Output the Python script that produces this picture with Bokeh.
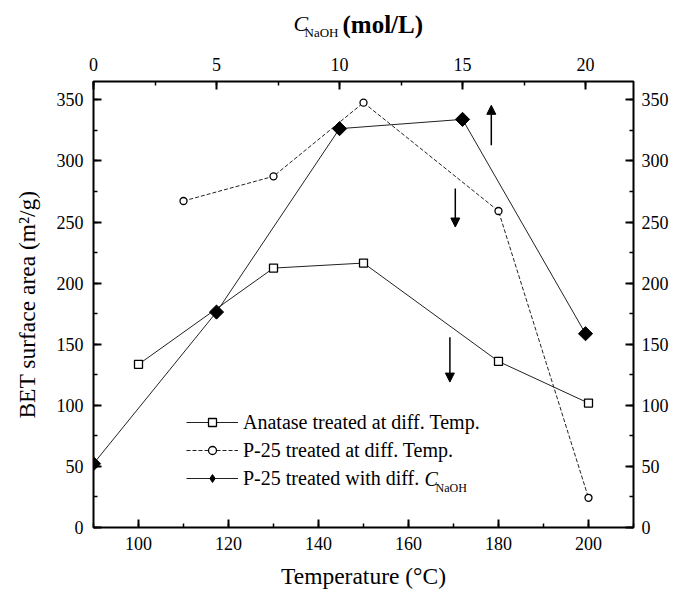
import numpy as np
from bokeh.plotting import figure
from bokeh.layouts import column
from bokeh.models import (Range1d, LinearAxis, SingleIntervalTicker, Label,
                          Legend, LegendItem, Arrow, NormalHead)
from bokeh.core.properties import value
from bokeh.embed import file_html
from bokeh.resources import INLINE

# Anatase treated at different temperatures
anatase_temp = [100, 130, 150, 180, 200]
anatase_bet = [133.5, 212.3, 216.4, 135.9, 101.8]

# P-25 treated at different temperatures
p25_temp = [110, 130, 150, 180, 200]
p25_bet = [267.2, 287.4, 347.7, 259.0, 24.3]

# P-25 treated with different NaOH concentrations (top axis)
naoh_conc = [0, 5, 10, 15, 20]
naoh_bet = [52.2, 176.3, 326.4, 334.0, 158.6]

FONT = "Liberation Serif"
INK = "black"
W, H_TOP, H = 677, 44, 593
LEFT, RIGHT = 93, 44          # side borders shared by both rows

# ---- strip above the plot holding the top axis title (pixel coordinates) ----
hdr = figure(width=W, height=H_TOP, output_backend="svg", toolbar_location=None,
             x_range=Range1d(LEFT, W - RIGHT), y_range=Range1d(H_TOP, 0),
             x_axis_location=None, y_axis_location=None,
             min_border_left=LEFT, min_border_right=RIGHT,
             min_border_top=0, min_border_bottom=0,
             background_fill_color="white", border_fill_color="white")
hdr.grid.visible = False
hdr.outline_line_color = None
hdr.text(x=[293], y=[23], text=["C"], text_font=value(FONT),
         text_font_size="22px", text_font_style="italic",
         text_baseline="alphabetic", text_color=INK)
hdr.text(x=[304], y=[32], text=["NaOH"], text_font=value(FONT),
         text_font_size="13px", text_baseline="alphabetic", text_color=INK)
hdr.text(x=[342], y=[24], text=["(mol/L)"], text_font=value(FONT),
         text_font_size="25px", text_font_style="bold",
         text_baseline="alphabetic", text_color=INK)

# ---- main plot ----
p = figure(width=W, height=H - H_TOP, output_backend="svg", toolbar_location=None,
           x_range=Range1d(90, 210), y_range=Range1d(0, 365),
           min_border_left=LEFT, min_border_right=RIGHT,
           min_border_top=81 - H_TOP, min_border_bottom=66,
           background_fill_color="white", border_fill_color="white")
p.extra_x_ranges = {"naoh": Range1d(0, 21.95)}
p.grid.visible = False
p.outline_line_color = INK
p.outline_line_width = 2

p.xaxis.ticker = SingleIntervalTicker(interval=20, num_minor_ticks=2)
p.yaxis.ticker = SingleIntervalTicker(interval=50, num_minor_ticks=2)
top_axis = LinearAxis(x_range_name="naoh",
                      ticker=SingleIntervalTicker(interval=5, num_minor_ticks=2))
right_axis = LinearAxis(ticker=SingleIntervalTicker(interval=50, num_minor_ticks=2))
p.add_layout(top_axis, "above")
p.add_layout(right_axis, "right")

for ax in p.axis:
    ax.axis_line_color = None
    ax.major_tick_in = 8
    ax.major_tick_out = 0
    ax.minor_tick_in = 4
    ax.minor_tick_out = 0
    ax.major_tick_line_color = INK
    ax.minor_tick_line_color = INK
    ax.major_tick_line_width = 2
    ax.minor_tick_line_width = 1.5
    ax.major_label_text_font = FONT
    ax.major_label_text_font_size = "18px"
    ax.major_label_text_color = INK

p.below[0].major_label_standoff = 9
p.left[0].major_label_standoff = 10
top_axis.major_label_standoff = 11
right_axis.major_label_standoff = 8

p.below[0].axis_label = "Temperature (°C)"
p.left[0].axis_label = "BET surface area (m²/g)"
for ax in (p.below[0], p.left[0]):
    ax.axis_label_text_font = FONT
    ax.axis_label_text_font_size = "23.5px"
    ax.axis_label_text_font_style = "normal"
    ax.axis_label_text_color = INK
p.below[0].axis_label_standoff = 10
p.left[0].axis_label_standoff = 14

# series
LINE = "#222222"
l1 = p.line(anatase_temp, anatase_bet, line_color=LINE, line_width=1)
m1 = p.scatter(anatase_temp, anatase_bet, marker="square", size=8,
               fill_color="white", line_color=INK, line_width=1.3)
l2 = p.line(p25_temp, p25_bet, line_color=LINE, line_width=1, line_dash="4 2")
m2 = p.scatter(p25_temp, p25_bet, marker="circle", size=7,
               fill_color="white", line_color=INK, line_width=1.3)
l3 = p.line(naoh_conc, naoh_bet, line_color=LINE, line_width=1, x_range_name="naoh")
m3 = p.scatter(naoh_conc, naoh_bet, marker="square", angle=np.pi / 4, size=10,
               fill_color=INK, line_color=INK, x_range_name="naoh")
# diamond key used by the legend only
k3 = p.scatter(naoh_conc, naoh_bet, marker="diamond", size=17, fill_color=INK,
               line_color=INK, x_range_name="naoh", visible=False)

# arrows pointing to the axis each curve belongs to
head = dict(size=9, fill_color=INK, line_color=INK)
p.add_layout(Arrow(x_start=16.17, y_start=312.8, x_end=16.17, y_end=345.5,
                   x_range_name="naoh", line_width=1.5, line_color=INK,
                   end=NormalHead(**head)))
p.add_layout(Arrow(x_start=170.4, y_start=277.5, x_end=170.4, y_end=245.9,
                   line_width=1.5, line_color=INK, end=NormalHead(**head)))
p.add_layout(Arrow(x_start=169.2, y_start=155.6, x_end=169.2, y_end=119.0,
                   line_width=1.5, line_color=INK, end=NormalHead(**head)))

legend = Legend(items=[
    LegendItem(label="Anatase treated at diff. Temp.", renderers=[l1, m1]),
    LegendItem(label="P-25 treated at diff. Temp.", renderers=[l2, m2]),
    LegendItem(label="P-25 treated with diff.", renderers=[l3, k3]),
], location=(93, 37.5), padding=0, margin=0, spacing=5,
    glyph_width=52, glyph_height=20, label_height=20, label_standoff=5,
    label_text_font=FONT, label_text_font_size="20px", label_text_color=INK,
    border_line_color=None, background_fill_alpha=0)
p.add_layout(legend)

# subscripted concentration symbol in the last legend entry
p.add_layout(Label(x=331, y=49, x_units="screen", y_units="screen", text="C",
                   text_font=FONT, text_font_size="20px", text_font_style="italic",
                   text_baseline="middle", text_color=INK))
p.add_layout(Label(x=342, y=40, x_units="screen", y_units="screen", text="NaOH",
                   text_font=FONT, text_font_size="12px",
                   text_baseline="middle", text_color=INK))

open("out.html", "w").write(file_html(column(hdr, p, spacing=0), INLINE))
